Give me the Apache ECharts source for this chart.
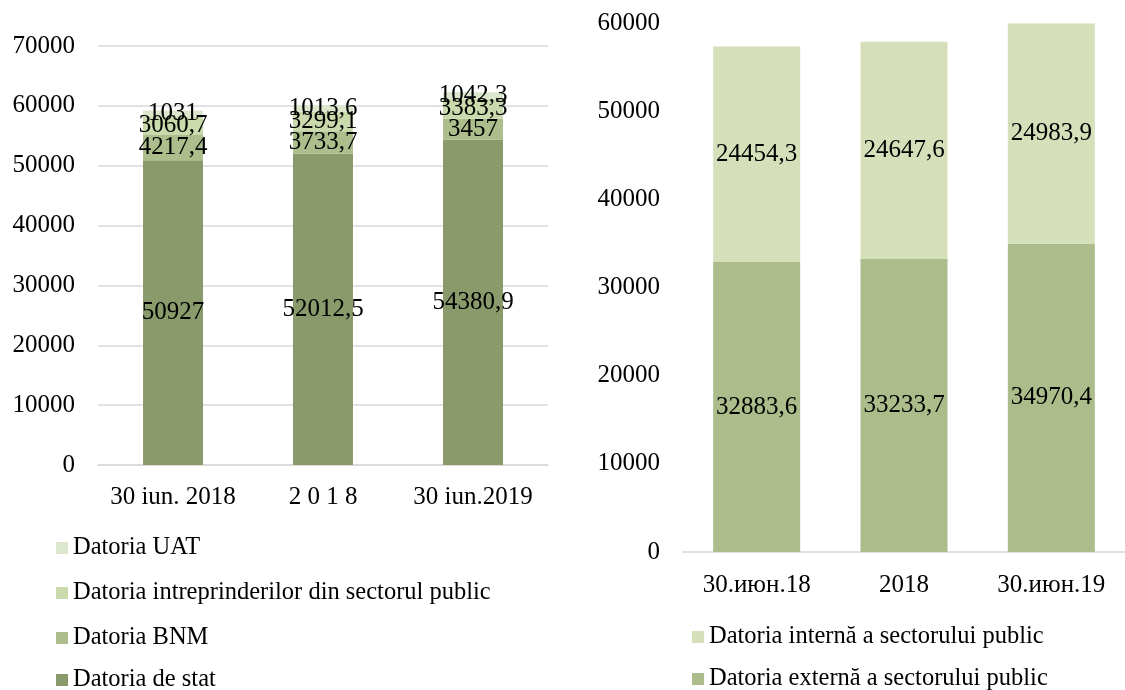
<!DOCTYPE html>
<html>
<head>
<meta charset="utf-8">
<script src="https://cdn.jsdelivr.net/npm/echarts@6/dist/echarts.min.js"></script>
<style>
html,body{margin:0;padding:0;background:#fff;}
#c{width:1125px;height:690px;}
</style>
</head>
<body>
<div id="c"></div>
<script>
// Left chart data
const leftCategories = ['30 iun. 2018', '2 0 1 8', '30 iun.2019'];
const datoriaDeStat = [50927, 52012.5, 54380.9];
const datoriaBNM = [4217.4, 3733.7, 3457];
const datoriaIntreprinderilor = [3060.7, 3299.1, 3383.3];
const datoriaUAT = [1031, 1013.6, 1042.3];
const leftTicks = { min: 0, max: 70000, interval: 10000 };

// Right chart data
const rightCategories = ['30.июн.18', '2018', '30.июн.19'];
const datoriaExterna = [32883.6, 33233.7, 34970.4];
const datoriaInterna = [24454.3, 24647.6, 24983.9];
const rightTicks = { min: 0, max: 60000, interval: 10000 };

const leftLegendNames = ['Datoria UAT', 'Datoria intreprinderilor din sectorul public', 'Datoria BNM', 'Datoria de stat'];
const rightLegendNames = ['Datoria internă a sectorului public', 'Datoria externă a sectorului public'];

const FONT = 'Liberation Serif';
const FS = 25;
const LFS = 24.5;
const fmt = p => String(p.value).replace('.', ',');
const lbl = { show: true, position: 'inside', color: '#000', fontFamily: FONT, fontSize: FS, formatter: fmt };

function bar(name, data, color, idx, stack, width) {
  return {
    name, type: 'bar', stack, data, xAxisIndex: idx, yAxisIndex: idx,
    barWidth: width, itemStyle: { color }, label: lbl, emphasis: { disabled: true }
  };
}

function legendItem(name, left, centerY) {
  return {
    orient: 'vertical', left, top: centerY - 13, itemWidth: 12, itemHeight: 12,
    icon: 'rect', selectedMode: false, padding: 0,
    textStyle: { color: '#000', fontFamily: FONT, fontSize: LFS, lineHeight: 26 },
    data: [name]
  };
}

const leftCenters = [548, 593, 638, 680];
const rightCenters = [637, 679];
const legends = leftLegendNames.map((n, i) => legendItem(n, 56, leftCenters[i]))
  .concat(rightLegendNames.map((n, i) => legendItem(n, 692, rightCenters[i])));

const axisLabelBase = { color: '#000', fontFamily: FONT, fontSize: FS };

const chart = echarts.init(document.getElementById('c'), null, { renderer: 'canvas' });
chart.setOption({
  animation: false,
  textStyle: { fontFamily: FONT },
  grid: [
    { left: 98, top: 46, width: 450, height: 419 },
    { left: 683, top: 23, width: 457, height: 529 }
  ],
  xAxis: [
    { type: 'category', gridIndex: 0, data: leftCategories,
      axisLine: { lineStyle: { color: '#D9D9D9', width: 1.5 } }, axisTick: { show: false },
      axisLabel: Object.assign({ margin: 20, interval: 0, hideOverlap: false }, axisLabelBase) },
    { type: 'category', gridIndex: 1, data: rightCategories,
      axisLine: { lineStyle: { color: '#D9D9D9', width: 1.5 } }, axisTick: { show: false },
      axisLabel: Object.assign({ margin: 21, interval: 0, hideOverlap: false }, axisLabelBase) }
  ],
  yAxis: [
    { type: 'value', gridIndex: 0, min: leftTicks.min, max: leftTicks.max, interval: leftTicks.interval,
      axisLine: { show: false }, axisTick: { show: false },
      splitLine: { lineStyle: { color: '#D9D9D9', width: 1.5 } },
      axisLabel: Object.assign({ margin: 23, formatter: v => String(v) }, axisLabelBase) },
    { type: 'value', gridIndex: 1, min: rightTicks.min, max: rightTicks.max, interval: rightTicks.interval,
      axisLine: { show: false }, axisTick: { show: false }, splitLine: { show: false },
      axisLabel: Object.assign({ margin: 23, formatter: v => String(v) }, axisLabelBase) }
  ],
  legend: legends,
  series: [
    bar('Datoria de stat', datoriaDeStat, '#8A9A6B', 0, 'L', 60),
    bar('Datoria BNM', datoriaBNM, '#ADBD8C', 0, 'L', 60),
    bar('Datoria intreprinderilor din sectorul public', datoriaIntreprinderilor, '#CBDAAC', 0, 'L', 60),
    bar('Datoria UAT', datoriaUAT, '#DDE7CD', 0, 'L', 60),
    bar('Datoria externă a sectorului public', datoriaExterna, '#ACBC8A', 1, 'R', 87),
    bar('Datoria internă a sectorului public', datoriaInterna, '#D5E0BA', 1, 'R', 87)
  ]
});
</script>
</body>
</html>
